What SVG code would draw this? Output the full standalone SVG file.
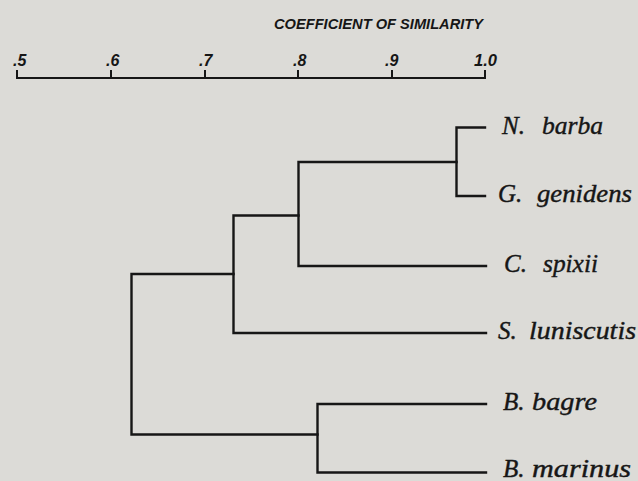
<svg xmlns="http://www.w3.org/2000/svg" width="638" height="481" viewBox="0 0 638 481">
  <style>
    .bg { fill: #dcdbd7; }
    .ln { fill: none; stroke: #161616; stroke-width: 2.4; stroke-linecap: square; stroke-linejoin: miter; }
    .ax { fill: none; stroke: #161616; stroke-width: 2; stroke-linecap: square; }
    .tick { font-family: "Liberation Sans", Arial, sans-serif; font-style: italic; font-weight: bold; font-size: 16px; fill: #161616; }
    .title { font-family: "Liberation Sans", Arial, sans-serif; font-style: italic; font-weight: bold; font-size: 14px; fill: #161616; }
    .sp { font-family: "Liberation Serif", "Times New Roman", serif; font-style: italic; font-size: 25px; fill: #161616; stroke: #161616; stroke-width: 0.4; }
  </style>
  <rect class="bg" x="0" y="0" width="638" height="481"/>

  <!-- similarity scale -->
  <g id="scale">
    <text class="title" x="274" y="29" textLength="209" lengthAdjust="spacingAndGlyphs">COEFFICIENT OF SIMILARITY</text>
    <path class="ax" d="M17,78 H485 M17,71 V78 M111,71 V78 M205,71 V78 M298,71 V78 M392,71 V78 M485,71 V78"/>
    <text class="tick" x="13" y="66">.5</text>
    <text class="tick" x="106" y="66">.6</text>
    <text class="tick" x="199" y="66">.7</text>
    <text class="tick" x="293" y="66">.8</text>
    <text class="tick" x="385" y="66">.9</text>
    <text class="tick" x="474" y="66" textLength="23" lengthAdjust="spacingAndGlyphs">1.0</text>
  </g>

  <!-- tree branches -->
  <g id="connectors">
    <path class="ln" d="M485,127.5 H456.5 V196 H485"/>
    <path class="ln" d="M456.5,162 H298.5 V266 H486"/>
    <path class="ln" d="M298.5,215.5 H233.5 V333 H486"/>
    <path class="ln" d="M233.5,274 H131.5 V434.5 H317.5"/>
    <path class="ln" d="M486,404 H317.5 V472.5 H486"/>
  </g>

  <!-- species -->
  <g id="n-barba"><text class="sp" x="502" y="134">N.<tspan x="542" textLength="61" lengthAdjust="spacingAndGlyphs">barba</tspan></text></g>
  <g id="g-genidens"><text class="sp" x="498" y="202">G.<tspan x="537" textLength="95" lengthAdjust="spacingAndGlyphs">genidens</tspan></text></g>
  <g id="c-spixii"><text class="sp" x="504" y="272">C.<tspan x="543" textLength="55" lengthAdjust="spacingAndGlyphs">spixii</tspan></text></g>
  <g id="s-luniscutis"><text class="sp" x="498" y="339">S.<tspan x="529" textLength="107" lengthAdjust="spacingAndGlyphs">luniscutis</tspan></text></g>
  <g id="b-bagre"><text class="sp" x="503" y="410">B.<tspan x="532" textLength="65" lengthAdjust="spacingAndGlyphs">bagre</tspan></text></g>
  <g id="b-marinus"><text class="sp" x="503" y="477">B.<tspan x="532" textLength="99" lengthAdjust="spacingAndGlyphs">marinus</tspan></text></g>
</svg>
